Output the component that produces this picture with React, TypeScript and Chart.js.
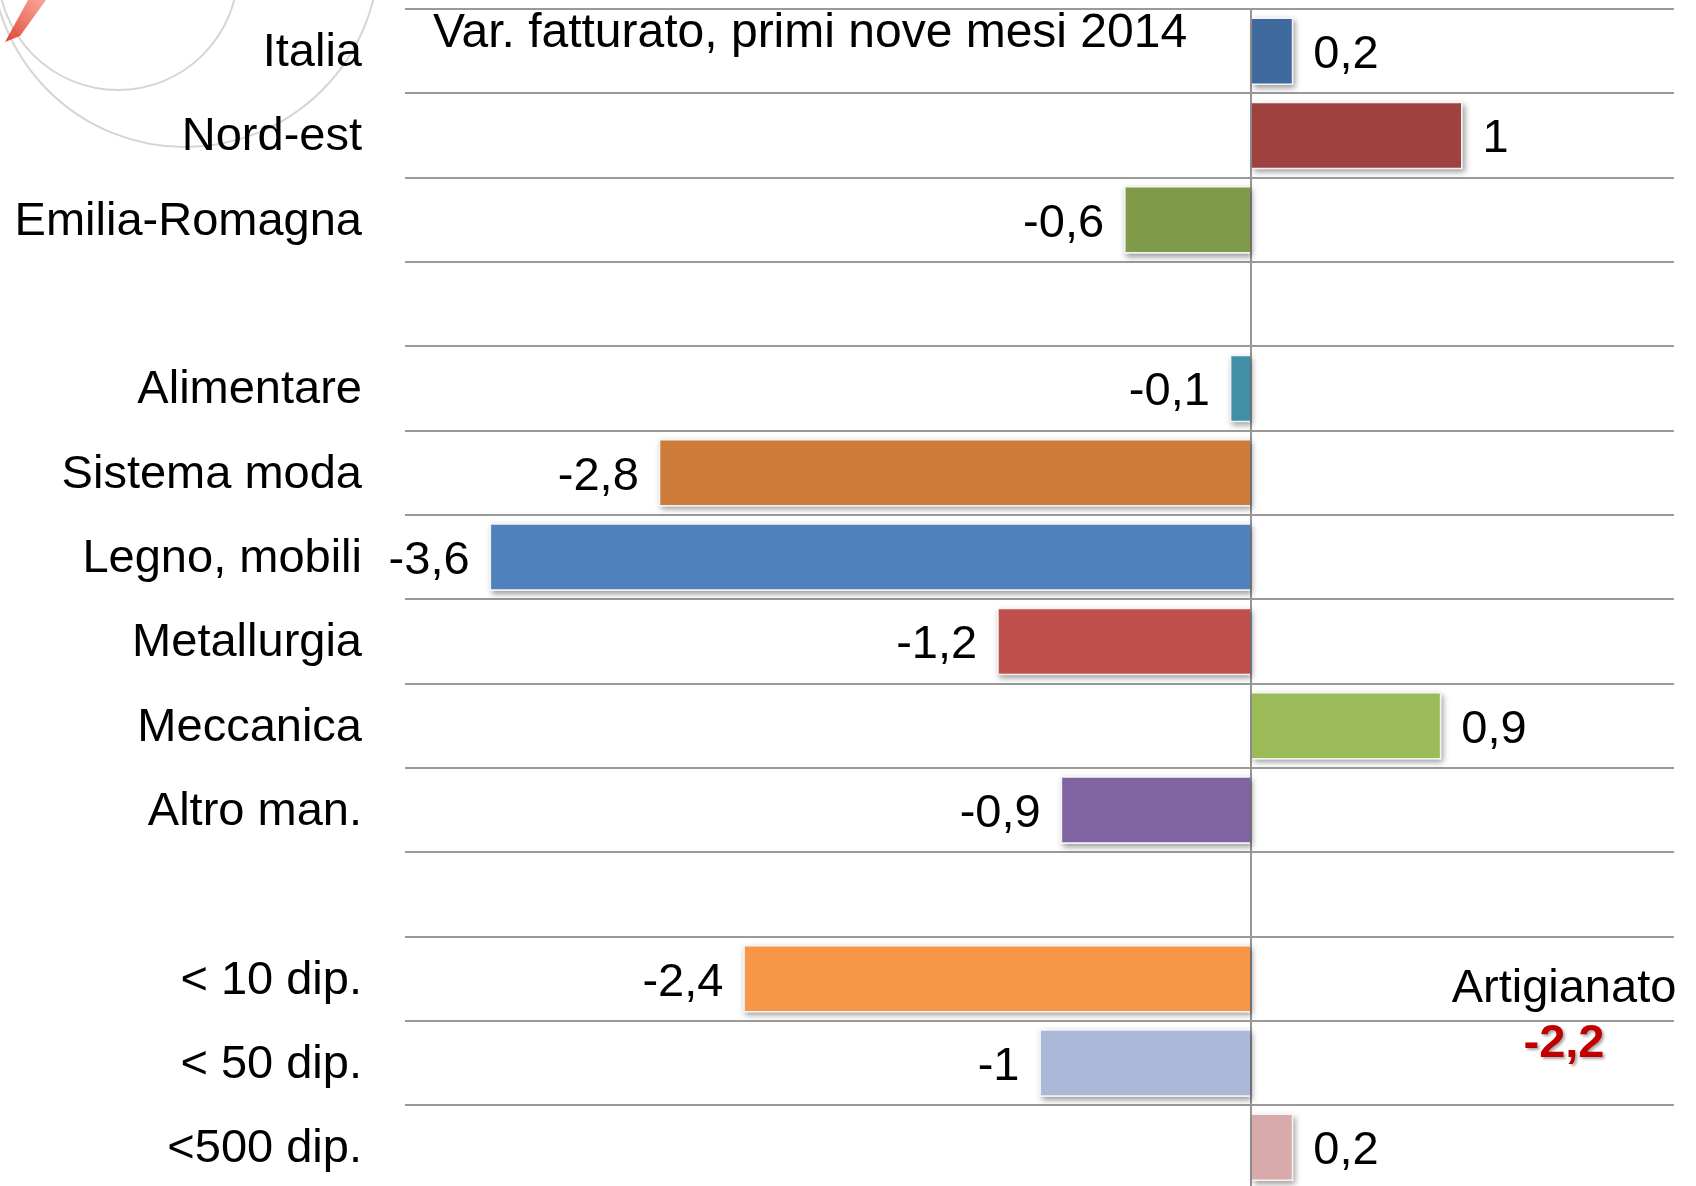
import React, { useEffect, useRef } from "react";
import { Chart, registerables } from "chart.js";

Chart.register(...registerables);

// ---- data ----
const categories = [
  "Italia",
  "Nord-est",
  "Emilia-Romagna",
  "",
  "Alimentare",
  "Sistema moda",
  "Legno, mobili",
  "Metallurgia",
  "Meccanica",
  "Altro man.",
  "",
  "< 10 dip.",
  "< 50 dip.",
  "<500 dip.",
];
const values: (number | null)[] = [0.2, 1, -0.6, null, -0.1, -2.8, -3.6, -1.2, 0.9, -0.9, null, -2.4, -1, 0.2];
const barColors = [
  "#3F6A9E",
  "#9E413F",
  "#7F9A48",
  "#FFFFFF",
  "#3F8FA6",
  "#CC7B38",
  "#4F81BD",
  "#C0504D",
  "#9BBB59",
  "#8064A2",
  "#FFFFFF",
  "#F79646",
  "#AAB9D7",
  "#D9AAAA",
];
const xMin = -4;
const xMax = 2;
const chartTitle = "Var. fatturato, primi nove mesi 2014";
const noteLabel = "Artigianato";
const noteValue = -2.2;

const FONT = "'Liberation Sans', Arial, Helvetica, sans-serif";
const fmt = (v: number) => String(v).replace(".", ",");

const decorPlugin = {
  id: "decor",
  beforeDraw(chart: any) {
    const ctx = chart.ctx;
    ctx.save();
    ctx.fillStyle = "#ffffff";
    ctx.fillRect(0, 0, chart.width, chart.height);
    // faint decorative circles (top-left)
    ctx.strokeStyle = "rgba(150,150,150,0.4)";
    ctx.lineWidth = 2;
    ctx.beginPath();
    ctx.arc(118, -30, 120, 0, Math.PI * 2);
    ctx.stroke();
    ctx.beginPath();
    ctx.arc(185, -47, 194, 0, Math.PI * 2);
    ctx.stroke();
    // red pen tip
    const g = ctx.createLinearGradient(40, 0, 5, 42);
    g.addColorStop(0, "rgba(245,120,100,0.7)");
    g.addColorStop(1, "rgba(220,60,40,0.95)");
    ctx.fillStyle = g;
    ctx.beginPath();
    ctx.moveTo(28, 0);
    ctx.lineTo(46, 0);
    ctx.lineTo(20, 36);
    ctx.lineTo(5, 42);
    ctx.closePath();
    ctx.fill();
    ctx.restore();
  },
};

const shadowPlugin = {
  id: "barShadow",
  beforeDatasetsDraw(chart: any) {
    const ctx = chart.ctx;
    const meta = chart.getDatasetMeta(0);
    ctx.save();
    ctx.shadowColor = "rgba(0,0,0,0.4)";
    ctx.shadowBlur = 6;
    ctx.shadowOffsetX = 2;
    ctx.shadowOffsetY = 3;
    ctx.fillStyle = "#ffffff";
    meta.data.forEach((el: any, i: number) => {
      if (values[i] === null) return;
      const p = el.getProps(["x", "y", "base", "height"], true);
      const left = Math.min(p.x, p.base);
      const w = Math.abs(p.x - p.base);
      ctx.fillRect(left, p.y - p.height / 2, w, p.height);
    });
    ctx.restore();
  },
};

const labelsPlugin = {
  id: "texts",
  afterDraw(chart: any) {
    const ctx = chart.ctx;
    const meta = chart.getDatasetMeta(0);
    ctx.save();
    ctx.fillStyle = "#000000";
    ctx.font = `47px ${FONT}`;
    ctx.textBaseline = "middle";
    meta.data.forEach((el: any, i: number) => {
      const v = values[i];
      if (v === null) return;
      const p = el.getProps(["x", "y"], true);
      if (v >= 0) {
        ctx.textAlign = "left";
        ctx.fillText(fmt(v), p.x + 20, p.y + 4);
      } else {
        ctx.textAlign = "right";
        ctx.fillText(fmt(v), p.x - 20, p.y + 4);
      }
    });
    // title
    ctx.font = `48px ${FONT}`;
    ctx.textAlign = "left";
    ctx.textBaseline = "alphabetic";
    ctx.fillText(chartTitle, 433, 47);
    // note
    const ys = chart.scales.y;
    const cx = 1564;
    ctx.font = `47px ${FONT}`;
    ctx.textAlign = "center";
    ctx.fillText(noteLabel, cx, ys.getPixelForValue(11) + 23);
    ctx.font = `bold 47px ${FONT}`;
    ctx.fillStyle = "#C00000";
    ctx.shadowColor = "rgba(0,0,0,0.35)";
    ctx.shadowBlur = 3;
    ctx.shadowOffsetX = 2;
    ctx.shadowOffsetY = 2;
    ctx.fillText(fmt(noteValue), cx, ys.getPixelForValue(12) - 6);
    ctx.restore();
  },
};

export default function App() {
  const ref = useRef<HTMLCanvasElement>(null);
  useEffect(() => {
    if (!ref.current) return;
    const chart = new Chart(ref.current, {
      type: "bar",
      data: {
        labels: categories,
        datasets: [
          {
            data: values,
            backgroundColor: barColors,
            borderColor: "#f2f2f2",
            borderWidth: 1.5,
            barPercentage: 0.8,
            categoryPercentage: 1,
          },
        ],
      },
      options: {
        indexAxis: "y",
        responsive: false,
        animation: false,
        devicePixelRatio: 1,
        layout: { padding: { left: 0, right: 22, top: 9, bottom: 10.5 } },
        plugins: {
          legend: { display: false },
          tooltip: { enabled: false },
          title: { display: false },
        },
        scales: {
          x: {
            min: xMin,
            max: xMax,
            ticks: { display: false, stepSize: 1 },
            grid: {
              drawTicks: false,
              lineWidth: 2,
              color: (c: any) => (c.tick && c.tick.value === 0 ? "#959595" : "rgba(0,0,0,0)"),
            },
            border: { display: false },
            afterFit: (scale: any) => {
              scale.height = 0;
              scale.paddingLeft = 0;
              scale.paddingRight = 0;
            },
          },
          y: {
            afterFit: (scale: any) => {
              scale.width = 405;
              scale.paddingTop = 0;
              scale.paddingBottom = 0;
            },
            ticks: {
              autoSkip: false,
              padding: 43,
              labelOffset: 2,
              color: "#000000",
              font: { size: 47, family: FONT },
            },
            grid: {
              offset: true,
              drawTicks: false,
              lineWidth: 2,
              color: "#9a9a9a",
            },
            border: { display: false },
          },
        },
      },
      plugins: [decorPlugin, shadowPlugin, labelsPlugin],
    } as any);
    return () => chart.destroy();
  }, []);
  return (
    <div style={{ position: "fixed", left: 0, top: 0, width: 1696, height: 1186, overflow: "hidden", background: "#fff" }}>
      <canvas ref={ref} width={1696} height={1200} style={{ display: "block", width: 1696, height: 1200 }} />
    </div>
  );
}
